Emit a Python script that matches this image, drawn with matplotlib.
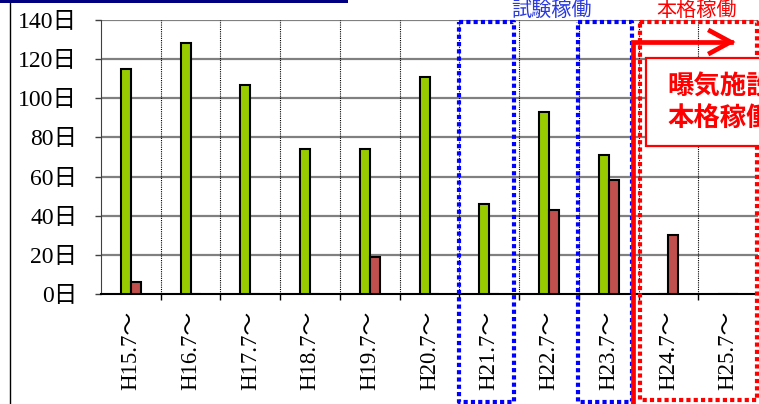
import matplotlib
matplotlib.use('Agg')
import matplotlib.pyplot as plt
from matplotlib.patches import Rectangle
from matplotlib.transforms import blended_transform_factory

plt.rcParams['font.family'] = ['Liberation Serif', 'Noto Sans CJK JP']

# days per season
periods = ['H15.7～', 'H16.7～', 'H17.7～', 'H18.7～', 'H19.7～', 'H20.7～',
           'H21.7～', 'H22.7～', 'H23.7～', 'H24.7～', 'H25.7～']
green_days = [115, 128, 107, 74, 74, 111, 46, 93, 71, 0, 0]
red_days = [6, 0, 0, 0, 19, 0, 0, 43, 58, 30, 0]
y_ticks = [0, 20, 40, 60, 80, 100, 120, 140]

W, H = 759, 404
fig = plt.figure(figsize=(W / 100, H / 100), dpi=100)
ax = fig.add_axes([101 / W, 110 / H, 657 / W, 274 / H])

def fy(py):
    # pixel row from the top -> figure fraction
    return 1 - py / H

x = list(range(len(periods)))
bw = 0.166
ax.bar([i - bw / 2 for i in x], green_days, width=bw, color='#99cc00',
       edgecolor='black', linewidth=1.5, zorder=3)
ax.bar([i + bw / 2 for i in x], red_days, width=bw,
       color='#c0504d', edgecolor='black', linewidth=1.5, zorder=3)

ax.set_xlim(-0.5, len(periods) - 0.5)
ax.set_ylim(0, 140)
ax.set_yticks(y_ticks)
ax.set_yticklabels([f'{v}日' for v in y_ticks], fontsize=17)
ax.set_xticks(x)
ax.set_xticklabels(periods, rotation=90, fontsize=16.5)
ax.tick_params(axis='y', length=4, width=1, pad=13, color='#404040')
ax.tick_params(axis='x', length=0, pad=12)
ax.set_xticks([i + 0.5 for i in x[:-1]], minor=True)
ax.tick_params(axis='x', which='minor', length=4, width=1)

for v in y_ticks[1:]:
    ax.axhline(v, color='#808080', linewidth=1.6, zorder=1)
for i in x[:-1]:
    ax.axvline(i + 0.5, color='black', linewidth=0.8, linestyle=(0, (1, 1)), zorder=1)

for s in ['top', 'right']:
    ax.spines[s].set_visible(False)
ax.spines['left'].set_color('#404040')
ax.spines['bottom'].set_linewidth(1.5)

tr = blended_transform_factory(ax.transData, fig.transFigure)

def dotted_box(x0, x1, ytop, ybot, color):
    ax.plot([x0, x1, x1, x0, x0], [fy(ytop), fy(ytop), fy(ybot), fy(ybot), fy(ytop)],
            transform=tr, color=color, linewidth=3, linestyle=(0, (1, 0.75)),
            clip_on=False, zorder=5, solid_capstyle='butt')

# trial operation periods
dotted_box(5.5, 6.42, 22, 402, '#0000ff')
dotted_box(7.49, 8.39, 22, 402, '#0000ff')
fig.text(551 / W, fy(10), '試験稼働', color='#2a3ae0', fontsize=14.5,
         family='Noto Sans CJK JP', ha='center', va='center')

# full operation
dotted_box(8.52, 10.48, 22, 400, '#ff0000')
fig.text(697 / W, fy(10), '本格稼働', color='#ff0000', fontsize=14.5,
         family='Noto Sans CJK JP', ha='center', va='center')
ax.plot([8.41, 8.41, 10.04], [fy(405), fy(42), fy(42)], transform=tr,
        color='#ff0000', linewidth=3.4, clip_on=False, zorder=6,
        solid_joinstyle='miter')
ax.plot([9.7, 10.04, 9.7], [fy(31), fy(42), fy(53)], transform=tr,
        color='#ff0000', linewidth=3.4, clip_on=False, zorder=6,
        solid_joinstyle='miter')
ax.add_patch(Rectangle((8.63, fy(146)), 2.2, fy(58) - fy(146), transform=tr,
                       facecolor='white', edgecolor='#ff0000', linewidth=1.6,
                       clip_on=False, zorder=7))
fig.text(667 / W, fy(87), '曝気施設の', color='#ff0000', fontsize=19,
         fontweight='bold', family='Noto Sans CJK JP', ha='left', va='center',
         zorder=8)
fig.text(667 / W, fy(118), '本格稼働', color='#ff0000', fontsize=19,
         fontweight='bold', family='Noto Sans CJK JP', ha='left', va='center',
         zorder=8)

# frame pieces around the chart
fig.patches.append(Rectangle((0, fy(3)), 348 / W, 3 / H, transform=fig.transFigure,
                             facecolor='#000080', edgecolor='none'))
fig.lines.append(plt.Line2D([9.5 / W, 9.5 / W], [0, fy(3)], transform=fig.transFigure,
                            color='black', linewidth=1))

fig.savefig('out.png', dpi=100)
